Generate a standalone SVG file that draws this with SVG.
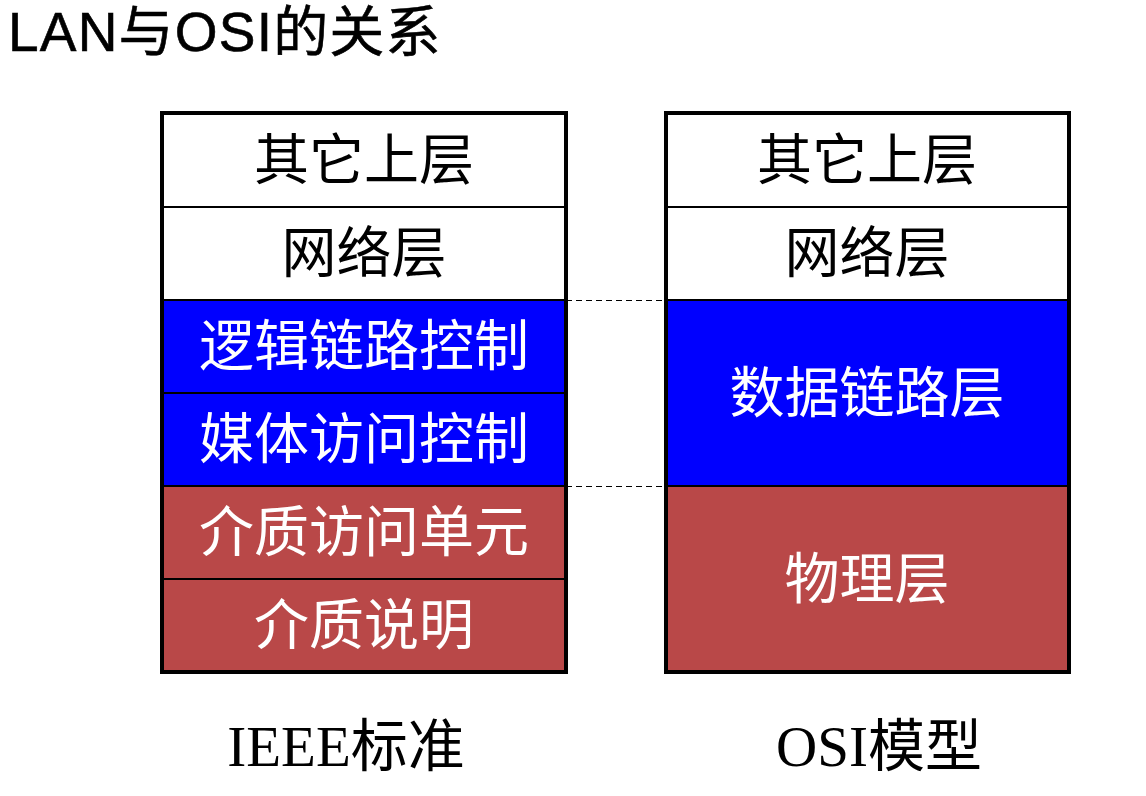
<svg xmlns="http://www.w3.org/2000/svg" width="1146" height="796" viewBox="0 0 1146 796">
<style>
.cell{stroke:#000;stroke-width:2}
.w{fill:#fff}
.b{fill:#0000ff}
.r{fill:#b94848}
.frame{fill:none;stroke:#000;stroke-width:4}
.t{font-family:"Liberation Serif","Noto Sans CJK SC",serif;font-size:55px;text-anchor:middle;dominant-baseline:central}
.dk{fill:#000}
.lt{fill:#fff}
.dash{stroke:#000;stroke-width:1;stroke-dasharray:6 4}
.title{font-family:"Liberation Sans","Noto Sans CJK SC",sans-serif;font-size:55px;letter-spacing:1.2px;fill:#000;stroke:#000;stroke-width:0.6}
.lab{font-family:"Liberation Serif","Noto Sans CJK SC",serif;font-size:57px;fill:#000;text-anchor:middle}
</style>
<text class="title" x="8" y="51">LAN与OSI的关系</text>
<g id="ieee">
<g id="l1"><rect class="cell w" x="162" y="113" width="404" height="94"/><text class="t dk" x="364" y="160">其它上层</text></g>
<g id="l2"><rect class="cell w" x="162" y="207" width="404" height="93"/><text class="t dk" x="364" y="253">网络层</text></g>
<g id="l3"><rect class="cell b" x="162" y="300" width="404" height="93"/><text class="t lt" x="364" y="346">逻辑链路控制</text></g>
<g id="l4"><rect class="cell b" x="162" y="393" width="404" height="93"/><text class="t lt" x="364" y="439">媒体访问控制</text></g>
<g id="l5"><rect class="cell r" x="162" y="486" width="404" height="93"/><text class="t lt" x="364" y="532">介质访问单元</text></g>
<g id="l6"><rect class="cell r" x="162" y="579" width="404" height="93"/><text class="t lt" x="364" y="625">介质说明</text></g>
<rect class="frame" x="162" y="113" width="404" height="559"/>
</g>
<g id="osi">
<g id="r1"><rect class="cell w" x="666" y="113" width="403" height="94"/><text class="t dk" x="867" y="160">其它上层</text></g>
<g id="r2"><rect class="cell w" x="666" y="207" width="403" height="93"/><text class="t dk" x="867" y="253">网络层</text></g>
<g id="r3"><rect class="cell b" x="666" y="300" width="403" height="186"/><text class="t lt" x="867" y="393">数据链路层</text></g>
<g id="r4"><rect class="cell r" x="666" y="486" width="403" height="186"/><text class="t lt" x="867" y="579">物理层</text></g>
<rect class="frame" x="666" y="113" width="403" height="559"/>
</g>
<g id="connectors">
<line class="dash" x1="566" y1="300.5" x2="666" y2="300.5"/>
<line class="dash" x1="566" y1="486.5" x2="666" y2="486.5"/>
</g>
<text class="lab" x="346" y="766">IEEE标准</text>
<text class="lab" x="879" y="766">OSI模型</text>
</svg>
